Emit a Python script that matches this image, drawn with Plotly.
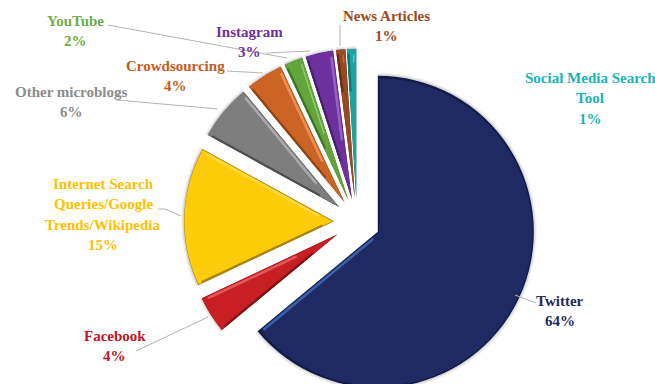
import math
import plotly.graph_objects as go

WIDTH, HEIGHT = 655, 444

sources = ["Twitter", "Facebook", "Internet Search Queries/Google Trends/Wikipedia",
           "Other microblogs", "Crowdsourcing", "YouTube", "Instagram",
           "News Articles", "Social Media Search Tool"]
shares = [64, 4, 15, 6, 4, 2, 3, 1, 1]

base_colors = ["#1F2A63", "#C81F24", "#FFCC0C", "#7E7E7E", "#CB6425",
               "#63A53D", "#6E309C", "#97491F", "#1FA2A2"]
rim_colors = ["#131B46", "#7E1216", "#A8840F", "#4E4E4E", "#8E4518",
              "#3F7226", "#45206A", "#5F2E14", "#127070"]
glow_colors = ["#3A62A8", "#E4575A", "#FFD83E", "#ABABAB", "#F09050",
               "#8FCC6A", "#9A60C8", "#BC6C3C", "#50CCCC"]
label_colors = ["#1F2A60", "#C0141F", "#FFC000", "#8C8C8C", "#C55A1E",
                "#70AD47", "#7030A0", "#9E4A20", "#17B5B5"]

# Caption lines with their centre x and the centre y of the first line
captions = [
    (["Twitter"], 560, 301),
    (["Facebook"], 115, 336),
    (["Internet Search", "Queries/Google", "Trends/Wikipedia"], 103, 184),
    (["Other microblogs"], 71, 92),
    (["Crowdsourcing"], 175, 66),
    (["YouTube"], 75, 21),
    (["Instagram"], 249, 32),
    (["News Articles"], 386, 16),
    (["Social Media Search", "Tool"], 590, 78),
]
LINE_STEP = 20.3

leaders = [
    [(515, 295), (536, 303)],
    [(136, 351), (208, 317)],
    [(158, 209), (165, 209), (181, 216)],
    [(117, 100), (218, 109)],
    [(227, 71), (263, 73)],
    [(108, 25), (287, 58)],
    [(267, 53), (310, 51)],
    [(340, 25), (340, 46)],
]

CX, CY = 357, 222
EXPLODE = 23
# The largest wedge is drawn slightly wider than the rest
wedge_radius = [156 if v == max(shares) else 150 for v in shares]
CLEAR = "rgba(0,0,0,0)"


def px(x):
    return x / WIDTH


def py(y):
    return 1 - y / HEIGHT


def pie_layer(colors, shrink=0.0, inset=0.0, opacity=1.0, large=True):
    """One exploded pie holding either the large wedge or all the others."""
    total = sum(shares)
    radius = max(wedge_radius) if large else min(wedge_radius)
    radius += -shrink
    pulls, shown = [], []
    for v, r, c in zip(shares, wedge_radius, colors):
        half = math.pi * v / total
        s = EXPLODE + min(inset / max(math.sin(half), 0.01), 3 * inset)
        pulls.append(s / radius)
        shown.append(c if (r == max(wedge_radius)) == large else CLEAR)
    half_box = radius * (1 + max(pulls))
    return go.Pie(
        labels=sources, values=shares, sort=False, direction="clockwise", rotation=0,
        pull=pulls, textinfo="none", hoverinfo="label+percent", showlegend=False,
        opacity=opacity,
        marker=dict(colors=shown, line=dict(width=0)),
        domain=dict(x=[px(CX - half_box), px(CX + half_box)],
                    y=[py(CY + half_box), py(CY - half_box)]),
    )


fig = go.Figure()
for large in (True, False):
    # soft halo behind the wedges
    fig.add_trace(pie_layer(["#000000"] * 9, shrink=-3, opacity=0.05, large=large))
    fig.add_trace(pie_layer(["#000000"] * 9, shrink=-1.5, opacity=0.10, large=large))
    # dark rim, then the flat face
    fig.add_trace(pie_layer(rim_colors, large=large))
    fig.add_trace(pie_layer(base_colors, shrink=2.2, inset=0.8, large=large))

annotations = []
for (lines, x, y), value, color in zip(captions, shares, label_colors):
    for i, text in enumerate(lines + [f"{value}%"]):
        annotations.append(dict(
            x=px(x), y=py(y + i * LINE_STEP), xref="paper", yref="paper",
            text=f"<b>{text}</b>", showarrow=False, xanchor="center", yanchor="middle",
            font=dict(family="Liberation Serif", size=15, color=color),
        ))

shapes = []
for path in leaders:
    for (x0, y0), (x1, y1) in zip(path, path[1:]):
        shapes.append(dict(type="line", xref="paper", yref="paper",
                           x0=px(x0), y0=py(y0), x1=px(x1), y1=py(y1),
                           line=dict(color="#B4B4B4", width=1)))


def edge_band(angle, sweep_sign, mid_angle, radius, offset, color, width):
    """A band running along a wedge's straight edge, just inside the face."""
    ax = CX + EXPLODE * math.sin(mid_angle)
    ay = CY - EXPLODE * math.cos(mid_angle)
    dx, dy = math.sin(angle), -math.cos(angle)
    # inward normal, towards the wedge's own interior
    nx, ny = sweep_sign * math.cos(angle), sweep_sign * math.sin(angle)
    half = abs(mid_angle - angle)
    t0 = (offset + width) / math.tan(half) + 6 if half < 1.4 else 8
    t1 = radius - offset - 3
    return dict(type="line", xref="paper", yref="paper",
                x0=px(ax + dx * t0 + nx * offset), y0=py(ay + dy * t0 + ny * offset),
                x1=px(ax + dx * t1 + nx * offset), y1=py(ay + dy * t1 + ny * offset),
                line=dict(color=color, width=width))


# Bevel: bright band on each wedge's closing edge, dark band on its opening edge
start = 0.0
total_share = sum(shares)
for value, radius, glow, rim in zip(shares, wedge_radius, glow_colors, rim_colors):
    sweep = 2 * math.pi * value / total_share
    mid = start + sweep / 2
    end = start + sweep
    shapes.append(edge_band(start, 1, mid, radius, 1.2, rim, 2))
    shapes.append(edge_band(end, -1, mid, radius, 2.6, glow, 2.5 if value > 2 else 1.5))
    start = end

fig.update_layout(
    width=WIDTH, height=HEIGHT, margin=dict(l=0, r=0, t=0, b=0),
    paper_bgcolor="white", annotations=annotations, shapes=shapes,
    font=dict(family="Liberation Serif"),
)

# the lower part of the layout runs past the window edge
fig.write_html("out.html", config={"displayModeBar": False},
               post_script="document.documentElement.style.overflow='hidden';"
                           "document.body.style.overflow='hidden';")
